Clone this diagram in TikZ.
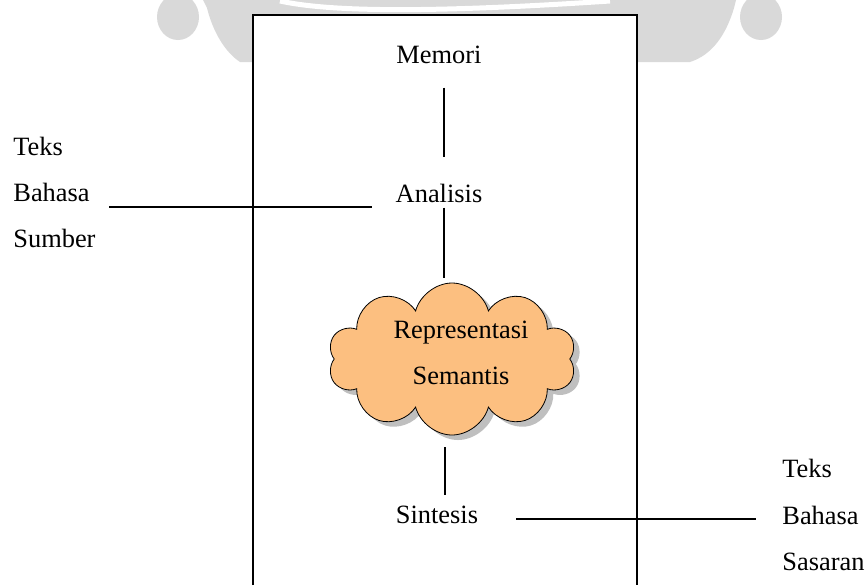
\documentclass[tikz,border=0pt]{standalone}
\usepackage{fontspec}
\setmainfont{Liberation Serif}
\usepackage{xcolor}
\usetikzlibrary{calc, shapes.symbols, shadows}
\definecolor{CloudOrange}{RGB}{252, 191, 128}
\definecolor{CloudShadow}{RGB}{128, 128, 128}
\definecolor{MarkGray}{RGB}{217, 217, 217}

\tikzset{
  term/.style={inner sep=0pt, font=\fontsize{13.2}{23}\selectfont},
  link/.style={line width=0.8pt},
}

\begin{document}
\begin{tikzpicture}[x=0.5pt, y=-0.5pt]
  \useasboundingbox (0,0) rectangle (866,585);
  % watermark
  \fill[MarkGray] (178,17) ellipse [x radius=21, y radius=23];
  \fill[MarkGray] (761,17) ellipse [x radius=21, y radius=23];
  \fill[MarkGray] (203,0) -- (207,8) .. controls (213,32) and (225,52) .. (240,62) -- (253,62) -- (253,0) -- cycle;
  \fill[MarkGray] (637,0) -- (736,0) -- (734,8) .. controls (726,35) and (712,55) .. (690,62) -- (637,62) -- cycle;
  \fill[MarkGray] (253,0) rectangle (637,15);
  \draw[white, line width=2.5pt] (280,1) .. controls (330,12) and (430,13) .. (610,1);
  % frame
  \fill[white] (253,15) rectangle (637,585);
  \draw[line width=0.9pt] (253,585) -- (253,15) -- (637,15) -- (637,585);

  \node[term, anchor=base] (memori) at (439,63) {Memori};
  \node[term, anchor=base] (analisis) at (439,202) {Analisis};
  \node[cloud, cloud puffs=10, draw, fill=CloudOrange, minimum width=124pt, minimum height=76pt,
        drop shadow={shadow xshift=3pt, shadow yshift=-2.5pt, fill=CloudShadow}] (semantik) at (452,359) {};
  \node[term, align=center] (semantikText) at (461,353) {Representasi\\Semantis};
  \node[term, anchor=base] (sintesis) at (437,523) {Sintesis};

  \node[term, anchor=base west] (srcTeks) at (13,155) {Teks};
  \node[term, anchor=base west] (srcBahasa) at (13,201) {Bahasa};
  \node[term, anchor=base west] (srcSumber) at (13,247) {Sumber};
  \node[term, anchor=base west] (tgtTeks) at (782,477) {Teks};
  \node[term, anchor=base west] (tgtBahasa) at (782,524) {Bahasa};
  \node[term, anchor=base west] (tgtSasaran) at (782,570) {Sasaran};

  \draw[link] ($(memori.south)+(5,24)$) -- ($(analisis.north)+(5,-26)$);
  \draw[link] ($(analisis.south)+(5,5)$) -- ($(semantik.center)+(-8,-81)$);
  \draw[link] ($(semantik.center)+(-7,88)$) -- ($(sintesis.north)+(8,-10)$);
  \draw[link] ($(srcBahasa.base east)+(19,6)$) -- ($(analisis.base west)+(-23,5)$);
  \draw[link] ($(sintesis.base east)+(38,-4)$) -- ($(tgtBahasa.base west)+(-26,-5)$);
\end{tikzpicture}
\end{document}
